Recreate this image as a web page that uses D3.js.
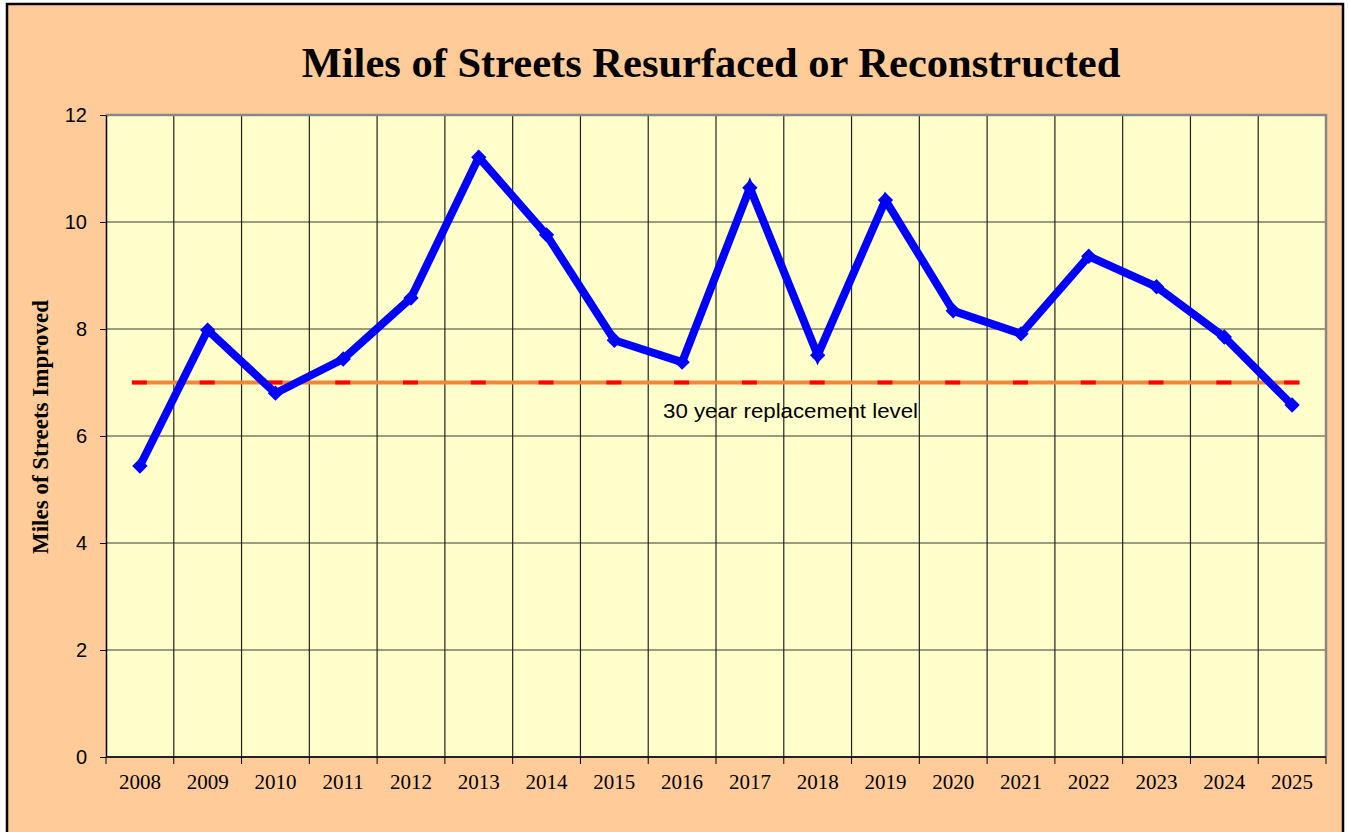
<!DOCTYPE html>
<meta charset="utf-8">
<style>
body { margin: 0; background: #fff; }
</style>
<body>
<div id="graph"></div>
<script src="https://d3js.org/d3.v7.min.js"></script>
<script>
// chart data
var years = ["2008","2009","2010","2011","2012","2013","2014","2015","2016","2017","2018","2019","2020","2021","2022","2023","2024","2025"];
var miles = [5.44, 7.98, 6.80, 7.44, 8.58, 11.21, 9.76, 7.79, 7.38, 10.64, 7.51, 10.41, 8.34, 7.91, 9.36, 8.79, 7.85, 6.58];
var replacementLevel = 7;
var yTicks = [0, 2, 4, 6, 8, 10, 12];

var W = 1348, H = 832;
var margin = {top: 115, right: 22, bottom: 75, left: 106},
    width = 1326 - margin.left,
    height = 757 - margin.top;

var root = d3.select("#graph").append("svg")
    .attr("width", W)
    .attr("height", H);

// outer frame
root.append("rect")
    .attr("x", 7).attr("y", 4)
    .attr("width", 1336).attr("height", 840)
    .attr("fill", "#ffcc99")
    .attr("stroke", "#000")
    .attr("stroke-width", 2.5);

root.append("text")
    .attr("x", 711).attr("y", 77)
    .attr("text-anchor", "middle")
    .style("font-family", "'Liberation Serif', serif")
    .style("font-weight", "bold")
    .style("font-size", "42.5px")
    .text("Miles of Streets Resurfaced or Reconstructed");

root.append("text")
    .attr("transform", "translate(48,427) rotate(-90)")
    .attr("text-anchor", "middle")
    .style("font-family", "'Liberation Serif', serif")
    .style("font-weight", "bold")
    .style("font-size", "23px")
    .text("Miles of Streets Improved");

var svg = root.append("g")
    .attr("transform", "translate(" + margin.left + "," + margin.top + ")");

var x = d3.scaleBand().domain(years).range([0, width]).padding(0);
var y = d3.scaleLinear().domain([0, 12]).range([height, 0]);

svg.append("rect")
    .attr("width", width).attr("height", height)
    .attr("fill", "#ffffcc");

// horizontal grid
svg.selectAll(".hgrid")
    .data(yTicks.filter(function(d) { return d > 0 && d < 12; }))
    .enter().append("line")
    .attr("x1", 0).attr("x2", width)
    .attr("y1", function(d) { return y(d); })
    .attr("y2", function(d) { return y(d); })
    .attr("stroke", "#3a3a30")
    .attr("stroke-width", 1.2);

// vertical grid at category boundaries
svg.selectAll(".vgrid")
    .data(years.slice(1))
    .enter().append("line")
    .attr("x1", function(d) { return x(d); })
    .attr("x2", function(d) { return x(d); })
    .attr("y1", 0).attr("y2", height)
    .attr("stroke", "#222")
    .attr("stroke-width", 1.2);

// top & right plot border (grey)
svg.append("path")
    .attr("d", "M0,0H" + width + "V" + height)
    .attr("fill", "none")
    .attr("stroke", "#888")
    .attr("stroke-width", 2.5);

// y axis
var yAxis = svg.append("g")
    .call(d3.axisLeft(y).tickValues(yTicks).tickSize(6).tickPadding(13).tickSizeOuter(0));
yAxis.select(".domain").attr("stroke", "#000").attr("stroke-width", 1.5);
yAxis.selectAll(".tick line").attr("stroke", "#000");
yAxis.selectAll("text")
    .style("font-family", "'Liberation Sans', Arial, sans-serif")
    .style("font-size", "20px")
    .attr("fill", "#000");

// x axis: ticks at boundaries
var xAxis = svg.append("g")
    .attr("transform", "translate(0," + height + ")");
xAxis.append("line")
    .attr("x1", 0).attr("x2", width)
    .attr("stroke", "#222").attr("stroke-width", 2);
xAxis.selectAll(".xtick")
    .data(years.concat(["end"]))
    .enter().append("line")
    .attr("x1", function(d, i) { return i < years.length ? x(d) : width; })
    .attr("x2", function(d, i) { return i < years.length ? x(d) : width; })
    .attr("y1", 0).attr("y2", 7)
    .attr("stroke", "#000");
xAxis.selectAll(".xlab")
    .data(years)
    .enter().append("text")
    .attr("x", function(d) { return x(d) + x.bandwidth() / 2; })
    .attr("y", 32)
    .attr("text-anchor", "middle")
    .style("font-family", "'Liberation Serif', serif")
    .style("font-size", "21px")
    .text(function(d) { return d; });

// replacement level line
var cx = function(d) { return x(d) + x.bandwidth() / 2; };
svg.append("line")
    .attr("x1", cx(years[0]) - 8)
    .attr("x2", cx(years[years.length - 1]) + 8)
    .attr("y1", y(replacementLevel)).attr("y2", y(replacementLevel))
    .attr("stroke", "#ed8a3a")
    .attr("stroke-width", 4);
svg.selectAll(".repl")
    .data(years)
    .enter().append("line")
    .attr("x1", function(d) { return cx(d) - 8; })
    .attr("x2", function(d) { return cx(d) + 7; })
    .attr("y1", y(replacementLevel)).attr("y2", y(replacementLevel))
    .attr("stroke", "#ff0000")
    .attr("stroke-width", 4);

svg.append("text")
    .attr("x", 557).attr("y", 303)
    .attr("textLength", 255)
    .attr("lengthAdjust", "spacingAndGlyphs")
    .style("font-family", "'Liberation Sans', Arial, sans-serif")
    .style("font-size", "20px")
    .text("30 year replacement level");

// data line
var line = d3.line()
    .x(function(d, i) { return cx(years[i]); })
    .y(function(d) { return y(d); });

svg.append("path")
    .datum(miles)
    .attr("fill", "none")
    .attr("stroke", "#0000ff")
    .attr("stroke-width", 8)
    .attr("stroke-linejoin", "miter")
    .attr("d", line);

svg.selectAll(".marker")
    .data(miles)
    .enter().append("path")
    .attr("transform", function(d, i) { return "translate(" + cx(years[i]) + "," + y(d) + ")"; })
    .attr("d", d3.symbol().type(d3.symbolDiamond2).size(150))
    .attr("fill", "#0000ff");
</script>
</body>
